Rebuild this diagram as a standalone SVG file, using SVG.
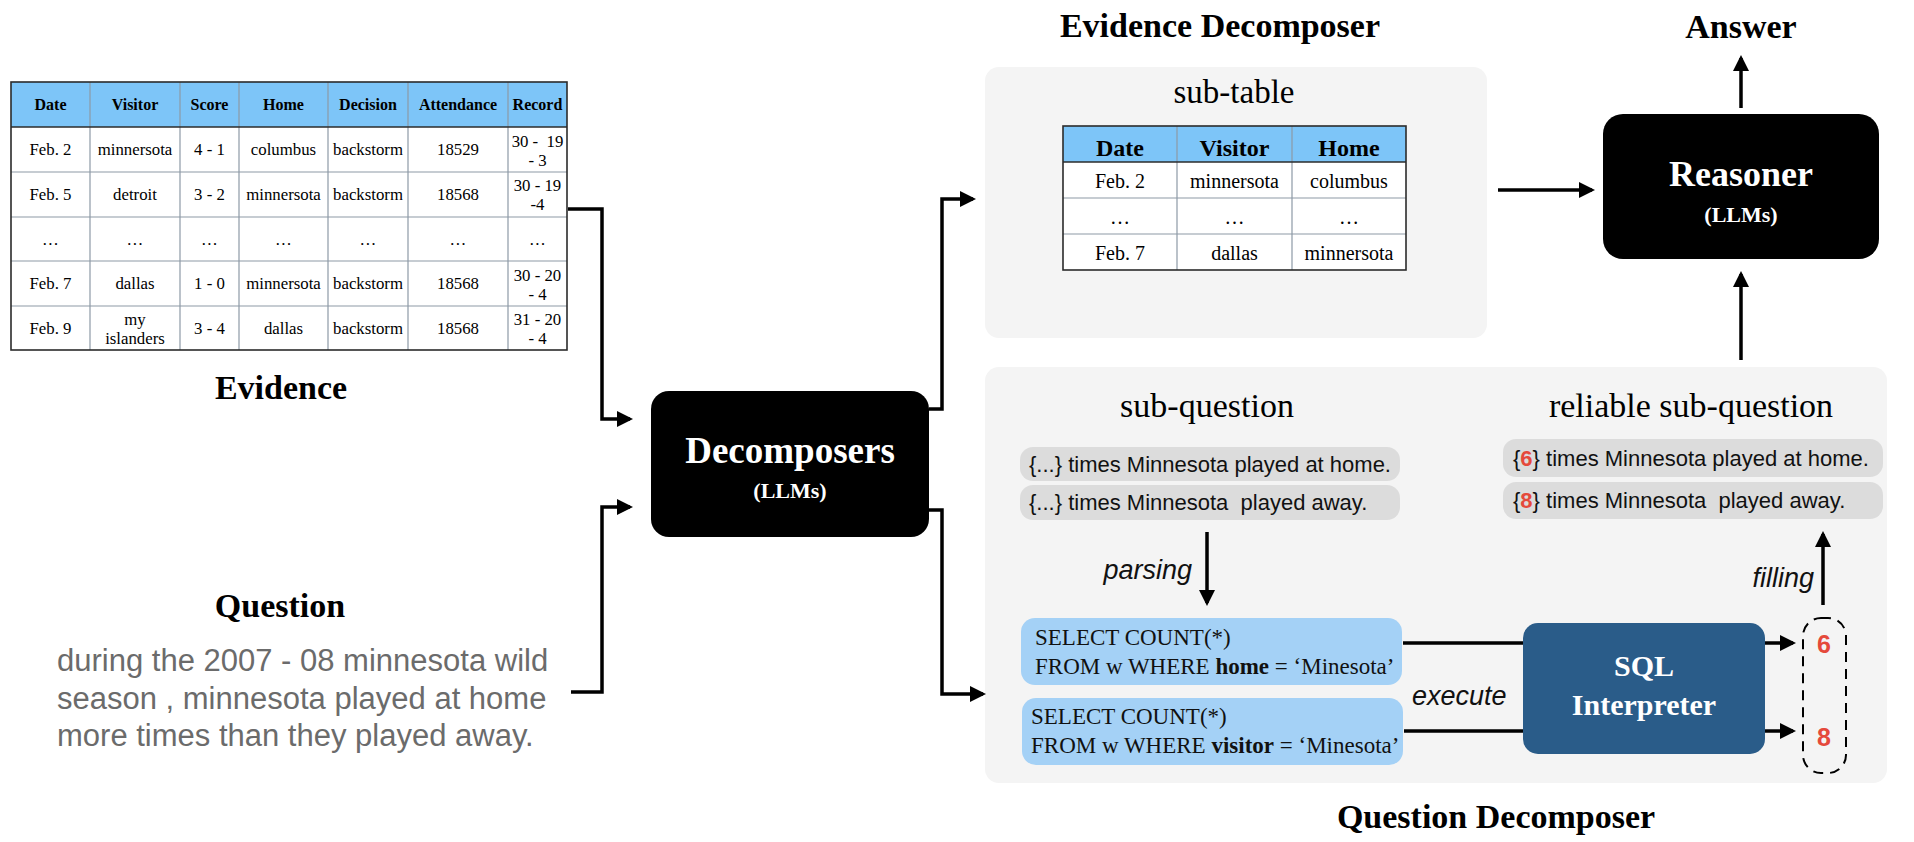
<svg xmlns="http://www.w3.org/2000/svg" width="1914" height="842" viewBox="0 0 1914 842">
<defs>
<style>
.serif{font-family:"Liberation Serif","Times New Roman",serif;}
.sans{font-family:"Liberation Sans",Arial,sans-serif;}
.head{font-family:"Liberation Serif","Times New Roman",serif;font-weight:bold;font-size:34px;fill:#000;text-anchor:middle;}
.th{font-family:"Liberation Serif","Times New Roman",serif;font-weight:bold;font-size:16px;text-anchor:middle;fill:#000;}
.td{font-family:"Liberation Serif","Times New Roman",serif;font-size:16.8px;text-anchor:middle;fill:#000;}
.sth{font-family:"Liberation Serif","Times New Roman",serif;font-weight:bold;font-size:24px;text-anchor:middle;fill:#000;}
.std{font-family:"Liberation Serif","Times New Roman",serif;font-size:20px;text-anchor:middle;fill:#000;}
.grid{stroke:#8d99a6;stroke-width:1.2;fill:none;}
.outer{stroke:#2b2b2b;stroke-width:1.6;fill:none;}
.hdr{fill:#7dc5f8;}
.panel{fill:#f4f4f4;}
.pill{fill:#dcdcdc;}
.pilltxt{font-family:"Liberation Sans",Arial,sans-serif;font-size:22px;fill:#111;}
.sql{fill:#a4d1f6;}
.sqltxt{font-family:"Liberation Serif","Times New Roman",serif;font-size:23px;fill:#111;}
.lbl{font-family:"Liberation Sans",Arial,sans-serif;font-style:italic;font-size:27px;fill:#111;}
.red{fill:#e5493b;font-weight:bold;}
.conn{stroke:#000;stroke-width:3.5;fill:none;}
.arr{marker-end:url(#ah);}
.white{fill:#fff;}
</style>
<marker id="ah" markerUnits="userSpaceOnUse" markerWidth="16" markerHeight="16" refX="13" refY="8" orient="auto">
<path d="M0,0 L16,8 L0,16 z" fill="#000"/>
</marker>
</defs>
<rect width="1914" height="842" fill="#fff"/>

<!-- Evidence table -->
<g id="evidence-table">
<rect class="hdr" x="11" y="82" width="556" height="45"/>
<rect fill="#fff" x="11" y="127" width="556" height="223"/>
<g class="grid">
<line x1="11" y1="172" x2="567" y2="172"/>
<line x1="11" y1="217" x2="567" y2="217"/>
<line x1="11" y1="261" x2="567" y2="261"/>
<line x1="11" y1="306" x2="567" y2="306"/>
<line x1="90" y1="82" x2="90" y2="350"/>
<line x1="180" y1="82" x2="180" y2="350"/>
<line x1="239" y1="82" x2="239" y2="350"/>
<line x1="328" y1="82" x2="328" y2="350"/>
<line x1="408" y1="82" x2="408" y2="350"/>
<line x1="508" y1="82" x2="508" y2="350"/>
</g>
<line class="outer" x1="11" y1="127" x2="567" y2="127"/>
<rect class="outer" x="11" y="82" width="556" height="268"/>
<text class="th" x="50.5" y="110">Date</text>
<text class="th" x="135" y="110">Visitor</text>
<text class="th" x="209.5" y="110">Score</text>
<text class="th" x="283.5" y="110">Home</text>
<text class="th" x="368" y="110">Decision</text>
<text class="th" x="458" y="110">Attendance</text>
<text class="th" x="537.5" y="110">Record</text>

<text class="td" x="50.5" y="155">Feb. 2</text>
<text class="td" x="135" y="155">minnersota</text>
<text class="td" x="209.5" y="155">4 - 1</text>
<text class="td" x="283.5" y="155">columbus</text>
<text class="td" x="368" y="155">backstorm</text>
<text class="td" x="458" y="155">18529</text>
<text class="td" x="537.5" y="147" xml:space="preserve">30 -  19</text>
<text class="td" x="537.5" y="166">- 3</text>

<text class="td" x="50.5" y="200">Feb. 5</text>
<text class="td" x="135" y="200">detroit</text>
<text class="td" x="209.5" y="200">3 - 2</text>
<text class="td" x="283.5" y="200">minnersota</text>
<text class="td" x="368" y="200">backstorm</text>
<text class="td" x="458" y="200">18568</text>
<text class="td" x="537.5" y="191">30 - 19</text>
<text class="td" x="537.5" y="210">-4</text>

<text class="td" x="50.5" y="245">…</text>
<text class="td" x="135" y="245">…</text>
<text class="td" x="209.5" y="245">…</text>
<text class="td" x="283.5" y="245">…</text>
<text class="td" x="368" y="245">…</text>
<text class="td" x="458" y="245">…</text>
<text class="td" x="537.5" y="245">…</text>

<text class="td" x="50.5" y="289">Feb. 7</text>
<text class="td" x="135" y="289">dallas</text>
<text class="td" x="209.5" y="289">1 - 0</text>
<text class="td" x="283.5" y="289">minnersota</text>
<text class="td" x="368" y="289">backstorm</text>
<text class="td" x="458" y="289">18568</text>
<text class="td" x="537.5" y="281">30 - 20</text>
<text class="td" x="537.5" y="300">- 4</text>

<text class="td" x="50.5" y="334">Feb. 9</text>
<text class="td" x="135" y="325">my</text>
<text class="td" x="135" y="344">islanders</text>
<text class="td" x="209.5" y="334">3 - 4</text>
<text class="td" x="283.5" y="334">dallas</text>
<text class="td" x="368" y="334">backstorm</text>
<text class="td" x="458" y="334">18568</text>
<text class="td" x="537.5" y="325">31 - 20</text>
<text class="td" x="537.5" y="344">- 4</text>
</g>
<g id="evidence-label">
<text class="head" x="281" y="399">Evidence</text>
</g>

<!-- Question -->
<g id="question">
<text class="head" x="280" y="617">Question</text>
<text class="sans" font-size="31" fill="#6b6b6b" x="57" y="671">during the 2007 - 08 minnesota wild</text>
<text class="sans" font-size="31" fill="#6b6b6b" x="57" y="709">season , minnesota played at home</text>
<text class="sans" font-size="31" fill="#6b6b6b" x="57" y="746">more times than they played away.</text>
</g>

<!-- Decomposers -->
<g id="decomposers">
<rect x="651" y="391" width="278" height="146" rx="18" fill="#000"/>
<text class="serif white" font-weight="bold" font-size="37" text-anchor="middle" x="790" y="463">Decomposers</text>
<text class="serif white" font-weight="bold" font-size="22" text-anchor="middle" x="790" y="498">(LLMs)</text>
</g>

<!-- Evidence Decomposer -->
<g id="evidence-decomposer">
<text class="head" x="1220" y="37">Evidence Decomposer</text>
<rect class="panel" x="985" y="67" width="502" height="271" rx="14"/>
<text class="serif" font-size="33" text-anchor="middle" x="1234" y="103">sub-table</text>
<g id="sub-table">
<rect class="hdr" x="1063" y="126" width="343" height="36"/>
<rect fill="#fff" x="1063" y="162" width="343" height="108"/>
<g class="grid">
<line x1="1063" y1="198" x2="1406" y2="198"/>
<line x1="1063" y1="234" x2="1406" y2="234"/>
<line x1="1177" y1="126" x2="1177" y2="270"/>
<line x1="1292" y1="126" x2="1292" y2="270"/>
</g>
<line class="outer" x1="1063" y1="162" x2="1406" y2="162"/>
<rect class="outer" x="1063" y="126" width="343" height="144"/>
<text class="sth" x="1120" y="156">Date</text>
<text class="sth" x="1234.5" y="156">Visitor</text>
<text class="sth" x="1349" y="156">Home</text>
<text class="std" x="1120" y="188">Feb. 2</text>
<text class="std" x="1234.5" y="188">minnersota</text>
<text class="std" x="1349" y="188">columbus</text>
<text class="std" x="1120" y="224">…</text>
<text class="std" x="1234.5" y="224">…</text>
<text class="std" x="1349" y="224">…</text>
<text class="std" x="1120" y="260">Feb. 7</text>
<text class="std" x="1234.5" y="260">dallas</text>
<text class="std" x="1349" y="260">minnersota</text>
</g>
</g>

<!-- Reasoner -->
<g id="reasoner">
<rect x="1603" y="114" width="276" height="145" rx="20" fill="#000"/>
<text class="serif white" font-weight="bold" font-size="36" text-anchor="middle" x="1741" y="186">Reasoner</text>
<text class="serif white" font-weight="bold" font-size="22" text-anchor="middle" x="1741" y="222">(LLMs)</text>
</g>
<g id="answer">
<text class="head" x="1741" y="38">Answer</text>
</g>

<!-- Question Decomposer -->
<g id="question-decomposer">
<rect class="panel" x="985" y="367" width="902" height="416" rx="14"/>
<text class="head" x="1496" y="828">Question Decomposer</text>
<text class="serif" font-size="34" text-anchor="middle" x="1207" y="417">sub-question</text>
<text class="serif" font-size="34" text-anchor="middle" x="1691" y="417">reliable sub-question</text>

<g id="sub-questions">
<rect class="pill" x="1020" y="447" width="380" height="34" rx="13"/>
<text class="pilltxt" x="1029" y="472">{...} times Minnesota played at home.</text>
<rect class="pill" x="1020" y="485" width="380" height="35" rx="13"/>
<text class="pilltxt" x="1029" y="510" xml:space="preserve">{...} times Minnesota  played away.</text>
</g>

<g id="reliable-sub-questions">
<rect class="pill" x="1503" y="439" width="380" height="38" rx="13"/>
<text class="pilltxt" x="1513" y="466">{<tspan class="red">6</tspan>} times Minnesota played at home.</text>
<rect class="pill" x="1503" y="482" width="380" height="37" rx="13"/>
<text class="pilltxt" x="1513" y="508" xml:space="preserve">{<tspan class="red">8</tspan>} times Minnesota  played away.</text>
</g>

<g id="sql-queries">
<rect class="sql" x="1021" y="618" width="381" height="67" rx="14"/>
<text class="sqltxt" x="1035" y="645">SELECT COUNT(*)</text>
<text class="sqltxt" x="1035" y="674">FROM w WHERE <tspan font-weight="bold">home</tspan> = ‘Minesota’</text>
<rect class="sql" x="1022" y="698" width="381" height="67" rx="14"/>
<text class="sqltxt" x="1031" y="724">SELECT COUNT(*)</text>
<text class="sqltxt" x="1031" y="753">FROM w WHERE <tspan font-weight="bold">visitor</tspan> = ‘Minesota’</text>
</g>

<g id="sql-interpreter">
<rect x="1523" y="623" width="242" height="131" rx="15" fill="#2a5c89"/>
<text class="serif white" font-weight="bold" font-size="30" text-anchor="middle" x="1644" y="676">SQL</text>
<text class="serif white" font-weight="bold" font-size="30" text-anchor="middle" x="1644" y="715">Interpreter</text>
</g>

<g id="results">
<rect x="1803" y="618" width="43" height="155" rx="18" fill="none" stroke="#000" stroke-width="2" stroke-dasharray="10 7"/>
<text class="sans red" font-size="25" text-anchor="middle" x="1824" y="653">6</text>
<text class="sans red" font-size="25" text-anchor="middle" x="1824" y="746">8</text>
</g>

<text class="lbl" x="1192" y="579" text-anchor="end">parsing</text>
<text class="lbl" x="1412" y="705">execute</text>
<text class="lbl" x="1814" y="587" text-anchor="end">filling</text>
</g>

<!-- Connectors -->
<g id="connectors">
<path class="conn arr" d="M568,209 H602 V419 H630"/>
<path class="conn arr" d="M571,692 H602 V507 H630"/>
<path class="conn arr" d="M929,409 H942 V199 H973"/>
<path class="conn arr" d="M929,510 H942 V694 H983"/>
<path class="conn arr" d="M1498,190 H1592"/>
<path class="conn arr" d="M1741,108 V58"/>
<path class="conn arr" d="M1741,360 V274"/>
<path class="conn arr" d="M1207,532 V603"/>
<path class="conn" d="M1403,643 H1523"/>
<path class="conn" d="M1404,731 H1523"/>
<path class="conn arr" d="M1765,643 H1793"/>
<path class="conn arr" d="M1765,731 H1793"/>
<path class="conn arr" d="M1823,605 V534"/>
</g>
</svg>
